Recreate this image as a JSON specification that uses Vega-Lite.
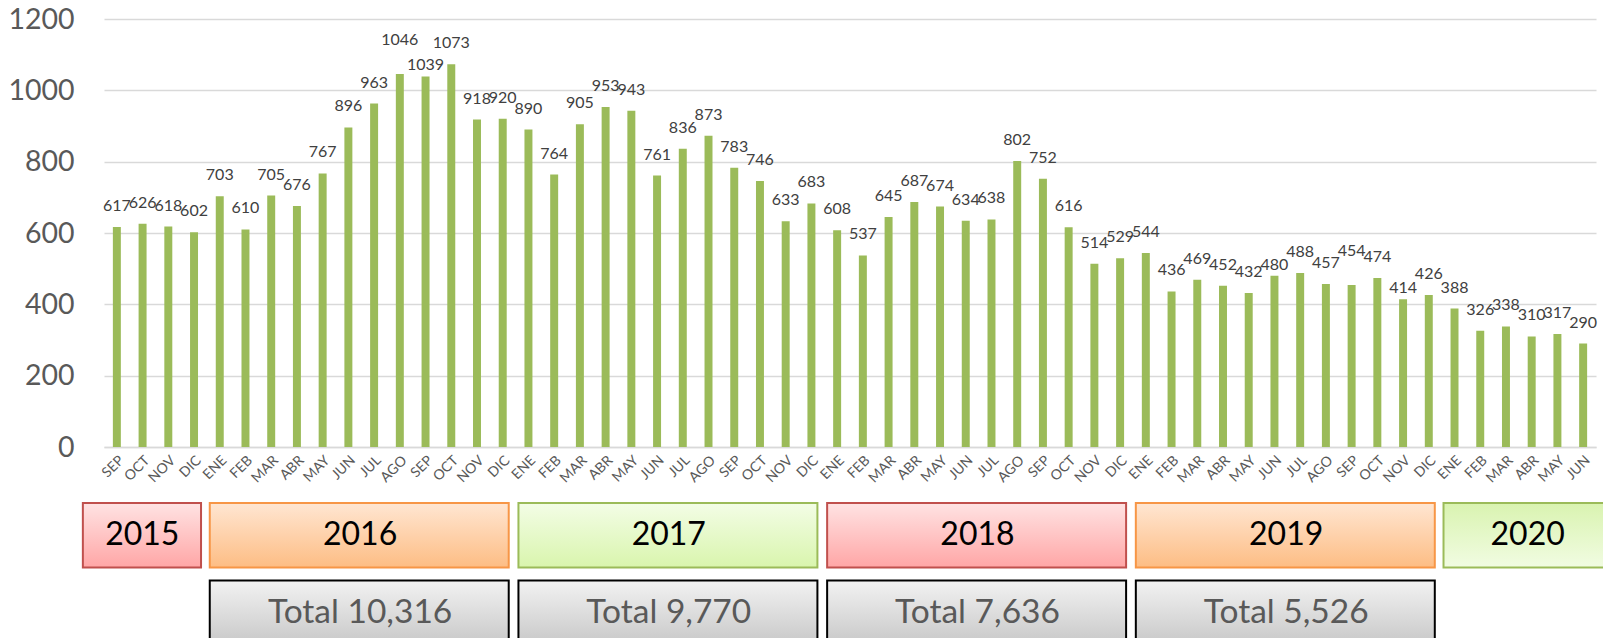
{
  "$schema": "https://vega.github.io/schema/vega-lite/v6.json",
  "padding": {"top": 5, "left": 7, "right": 0, "bottom": 0},
  "config": {"view": {"stroke": null}, "font": "Lato"},
  "datasets": {
    "meses": [
      {"mes": "2015-09 SEP", "casos": 617}, {"mes": "2015-10 OCT", "casos": 626}, {"mes": "2015-11 NOV", "casos": 618}, {"mes": "2015-12 DIC", "casos": 602},
      {"mes": "2016-01 ENE", "casos": 703}, {"mes": "2016-02 FEB", "casos": 610}, {"mes": "2016-03 MAR", "casos": 705}, {"mes": "2016-04 ABR", "casos": 676},
      {"mes": "2016-05 MAY", "casos": 767}, {"mes": "2016-06 JUN", "casos": 896}, {"mes": "2016-07 JUL", "casos": 963}, {"mes": "2016-08 AGO", "casos": 1046},
      {"mes": "2016-09 SEP", "casos": 1039}, {"mes": "2016-10 OCT", "casos": 1073}, {"mes": "2016-11 NOV", "casos": 918}, {"mes": "2016-12 DIC", "casos": 920},
      {"mes": "2017-01 ENE", "casos": 890}, {"mes": "2017-02 FEB", "casos": 764}, {"mes": "2017-03 MAR", "casos": 905}, {"mes": "2017-04 ABR", "casos": 953},
      {"mes": "2017-05 MAY", "casos": 943}, {"mes": "2017-06 JUN", "casos": 761}, {"mes": "2017-07 JUL", "casos": 836}, {"mes": "2017-08 AGO", "casos": 873},
      {"mes": "2017-09 SEP", "casos": 783}, {"mes": "2017-10 OCT", "casos": 746}, {"mes": "2017-11 NOV", "casos": 633}, {"mes": "2017-12 DIC", "casos": 683},
      {"mes": "2018-01 ENE", "casos": 608}, {"mes": "2018-02 FEB", "casos": 537}, {"mes": "2018-03 MAR", "casos": 645}, {"mes": "2018-04 ABR", "casos": 687},
      {"mes": "2018-05 MAY", "casos": 674}, {"mes": "2018-06 JUN", "casos": 634}, {"mes": "2018-07 JUL", "casos": 638}, {"mes": "2018-08 AGO", "casos": 802},
      {"mes": "2018-09 SEP", "casos": 752}, {"mes": "2018-10 OCT", "casos": 616}, {"mes": "2018-11 NOV", "casos": 514}, {"mes": "2018-12 DIC", "casos": 529},
      {"mes": "2019-01 ENE", "casos": 544}, {"mes": "2019-02 FEB", "casos": 436}, {"mes": "2019-03 MAR", "casos": 469}, {"mes": "2019-04 ABR", "casos": 452},
      {"mes": "2019-05 MAY", "casos": 432}, {"mes": "2019-06 JUN", "casos": 480}, {"mes": "2019-07 JUL", "casos": 488}, {"mes": "2019-08 AGO", "casos": 457},
      {"mes": "2019-09 SEP", "casos": 454}, {"mes": "2019-10 OCT", "casos": 474}, {"mes": "2019-11 NOV", "casos": 414}, {"mes": "2019-12 DIC", "casos": 426},
      {"mes": "2020-01 ENE", "casos": 388}, {"mes": "2020-02 FEB", "casos": 326}, {"mes": "2020-03 MAR", "casos": 338}, {"mes": "2020-04 ABR", "casos": 310},
      {"mes": "2020-05 MAY", "casos": 317}, {"mes": "2020-06 JUN", "casos": 290}
    ],
    "anios": [
      {"anio": "2015", "first": "2015-09 SEP", "last": "2015-12 DIC", "mid": "2015-11 NOV", "total": null},
      {"anio": "2016", "first": "2016-01 ENE", "last": "2016-12 DIC", "mid": "2016-07 JUL", "total": 10316},
      {"anio": "2017", "first": "2017-01 ENE", "last": "2017-12 DIC", "mid": "2017-07 JUL", "total": 9770},
      {"anio": "2018", "first": "2018-01 ENE", "last": "2018-12 DIC", "mid": "2018-07 JUL", "total": 7636},
      {"anio": "2019", "first": "2019-01 ENE", "last": "2019-12 DIC", "mid": "2019-07 JUL", "total": 5526},
      {"anio": "2020", "first": "2020-01 ENE", "last": "2020-06 JUN", "mid": "2020-04 ABR", "total": null}
    ]
  },
  "resolve": {"scale": {"x": "shared", "y": "independent"}, "axis": {"x": "independent", "y": "independent"}},
  "spacing": 17,
  "vconcat": [
    {
      "width": 1492,
      "height": 428,
      "data": {"name": "meses"},
      "encoding": {
        "x": {
          "field": "mes", "type": "nominal",
          "scale": {"paddingInner": 0.69, "paddingOuter": 0.345},
          "axis": {
            "title": null, "labelExpr": "substring(datum.value, 8)", "labelAngle": -45,
            "labelFontSize": 14, "labelColor": "#595959", "ticks": false,
            "domain": true, "domainColor": "#d9d9d9", "domainWidth": 1.5,
            "labelPadding": 6, "minExtent": 30, "maxExtent": 30
          }
        },
        "y": {
          "field": "casos", "type": "quantitative",
          "scale": {"domain": [0, 1200], "nice": false},
          "axis": {
            "title": null, "values": [0, 200, 400, 600, 800, 1000, 1200], "format": "d",
            "grid": true, "gridColor": "#d9d9d9", "gridWidth": 1.5,
            "domain": false, "ticks": false, "labelFontSize": 28.5,
            "labelColor": "#595959", "labelPadding": 30
          }
        }
      },
      "layer": [
        {"mark": {"type": "bar", "color": "#9bbb59"}},
        {
          "transform": [{"filter": "indexof(['2016-08 AGO', '2016-09 SEP', '2019-06 JUN', '2019-09 SEP', '2019-11 NOV'], datum.mes) < 0"}],
          "mark": {"type": "text", "baseline": "alphabetic", "dy": -16, "fontSize": 16, "color": "#404040"},
          "encoding": {"text": {"field": "casos", "type": "quantitative"}}
        },
        {
          "transform": [{"filter": "indexof(['2016-09 SEP', '2019-06 JUN', '2019-11 NOV'], datum.mes) >= 0"}],
          "mark": {"type": "text", "baseline": "alphabetic", "dy": -6, "fontSize": 16, "color": "#404040"},
          "encoding": {"text": {"field": "casos", "type": "quantitative"}}
        },
        {
          "transform": [{"filter": "indexof(['2016-08 AGO', '2019-09 SEP'], datum.mes) >= 0"}],
          "mark": {"type": "text", "baseline": "alphabetic", "dy": -29, "fontSize": 16, "color": "#404040"},
          "encoding": {"text": {"field": "casos", "type": "quantitative"}}
        }
      ]
    },
    {
      "width": 1492,
      "height": 142,
      "data": {"name": "anios"},
      "layer": [
        {
          "transform": [{"filter": "datum.anio == '2018'"}],
          "mark": {"type": "rect", "xOffset": -10, "x2Offset": 6, "stroke": "#c0504d", "strokeWidth": 2,
            "fill": {"gradient": "linear", "x1": 0, "y1": 0, "x2": 0, "y2": 1, "stops": [{"offset": 0, "color": "#ffe3e3"}, {"offset": 1, "color": "#ffa6a6"}]}},
          "encoding": {
            "x": {"field": "first", "type": "nominal", "bandPosition": 0.5, "axis": null},
            "x2": {"field": "last", "bandPosition": 0.5},
            "y": {"datum": "año", "type": "nominal", "axis": null, "scale": {"domain": ["año", "total"], "paddingInner": 0.168, "paddingOuter": 0}}
          }
        },
        {
          "transform": [{"filter": "datum.anio == '2015'"}],
          "mark": {"type": "rect", "xOffset": -34, "x2Offset": 7, "stroke": "#c0504d", "strokeWidth": 2,
            "fill": {"gradient": "linear", "x1": 0, "y1": 0, "x2": 0, "y2": 1, "stops": [{"offset": 0, "color": "#ffe3e3"}, {"offset": 1, "color": "#ffa6a6"}]}},
          "encoding": {
            "x": {"field": "first", "type": "nominal", "bandPosition": 0.5, "axis": null},
            "x2": {"field": "last", "bandPosition": 0.5},
            "y": {"datum": "año", "type": "nominal", "axis": null}
          }
        },
        {
          "transform": [{"filter": "datum.anio == '2016' || datum.anio == '2019'"}],
          "mark": {"type": "rect", "xOffset": -10, "x2Offset": 6, "stroke": "#f79646", "strokeWidth": 2,
            "fill": {"gradient": "linear", "x1": 0, "y1": 0, "x2": 0, "y2": 1, "stops": [{"offset": 0, "color": "#ffe6d2"}, {"offset": 1, "color": "#fdbd84"}]}},
          "encoding": {
            "x": {"field": "first", "type": "nominal", "bandPosition": 0.5, "axis": null},
            "x2": {"field": "last", "bandPosition": 0.5},
            "y": {"datum": "año", "type": "nominal", "axis": null}
          }
        },
        {
          "transform": [{"filter": "datum.anio == '2017'"}],
          "mark": {"type": "rect", "xOffset": -10, "x2Offset": 6, "stroke": "#9bbb59", "strokeWidth": 2,
            "fill": {"gradient": "linear", "x1": 0, "y1": 0, "x2": 0, "y2": 1, "stops": [{"offset": 0, "color": "#f3fde6"}, {"offset": 1, "color": "#d9f5ad"}]}},
          "encoding": {
            "x": {"field": "first", "type": "nominal", "bandPosition": 0.5, "axis": null},
            "x2": {"field": "last", "bandPosition": 0.5},
            "y": {"datum": "año", "type": "nominal", "axis": null}
          }
        },
        {
          "transform": [{"filter": "datum.anio == '2020'"}],
          "mark": {"type": "rect", "xOffset": -11, "x2Offset": 25, "stroke": "#9bbb59", "strokeWidth": 2,
            "fill": {"gradient": "linear", "x1": 0, "y1": 0, "x2": 0, "y2": 1, "stops": [{"offset": 0, "color": "#d9f3b0"}, {"offset": 1, "color": "#f1fce2"}]}},
          "encoding": {
            "x": {"field": "first", "type": "nominal", "bandPosition": 0.5, "axis": null},
            "x2": {"field": "last", "bandPosition": 0.5},
            "y": {"datum": "año", "type": "nominal", "axis": null}
          }
        },
        {
          "transform": [{"filter": "datum.total != null"}],
          "mark": {"type": "rect", "xOffset": -10, "x2Offset": 6, "stroke": "#000000", "strokeWidth": 2,
            "fill": {"gradient": "linear", "x1": 0, "y1": 0, "x2": 0, "y2": 1, "stops": [{"offset": 0, "color": "#f2f2f2"}, {"offset": 1, "color": "#c8c8c8"}]}},
          "encoding": {
            "x": {"field": "first", "type": "nominal", "bandPosition": 0.5, "axis": null},
            "x2": {"field": "last", "bandPosition": 0.5},
            "y": {"datum": "total", "type": "nominal", "axis": null}
          }
        },
        {
          "transform": [{"filter": "datum.anio != '2015' && datum.anio != '2020'"}],
          "mark": {"type": "text", "dx": -14, "fontSize": 32, "color": "#000000"},
          "encoding": {
            "x": {"field": "mid", "type": "nominal", "axis": null},
            "y": {"datum": "año", "type": "nominal", "axis": null},
            "text": {"field": "anio"}
          }
        },
        {
          "transform": [{"filter": "datum.anio == '2015'"}],
          "mark": {"type": "text", "dx": -26, "fontSize": 32, "color": "#000000"},
          "encoding": {
            "x": {"field": "mid", "type": "nominal", "axis": null},
            "y": {"datum": "año", "type": "nominal", "axis": null},
            "text": {"field": "anio"}
          }
        },
        {
          "transform": [{"filter": "datum.anio == '2020'"}],
          "mark": {"type": "text", "dx": -4, "fontSize": 32, "color": "#000000"},
          "encoding": {
            "x": {"field": "mid", "type": "nominal", "axis": null},
            "y": {"datum": "año", "type": "nominal", "axis": null},
            "text": {"field": "anio"}
          }
        },
        {
          "transform": [{"filter": "datum.total != null"}, {"calculate": "'Total ' + format(datum.total, ',')", "as": "etiqueta"}],
          "mark": {"type": "text", "dx": -14, "fontSize": 33.5, "color": "#595959"},
          "encoding": {
            "x": {"field": "mid", "type": "nominal", "axis": null},
            "y": {"datum": "total", "type": "nominal", "axis": null},
            "text": {"field": "etiqueta"}
          }
        }
      ]
    }
  ]
}
